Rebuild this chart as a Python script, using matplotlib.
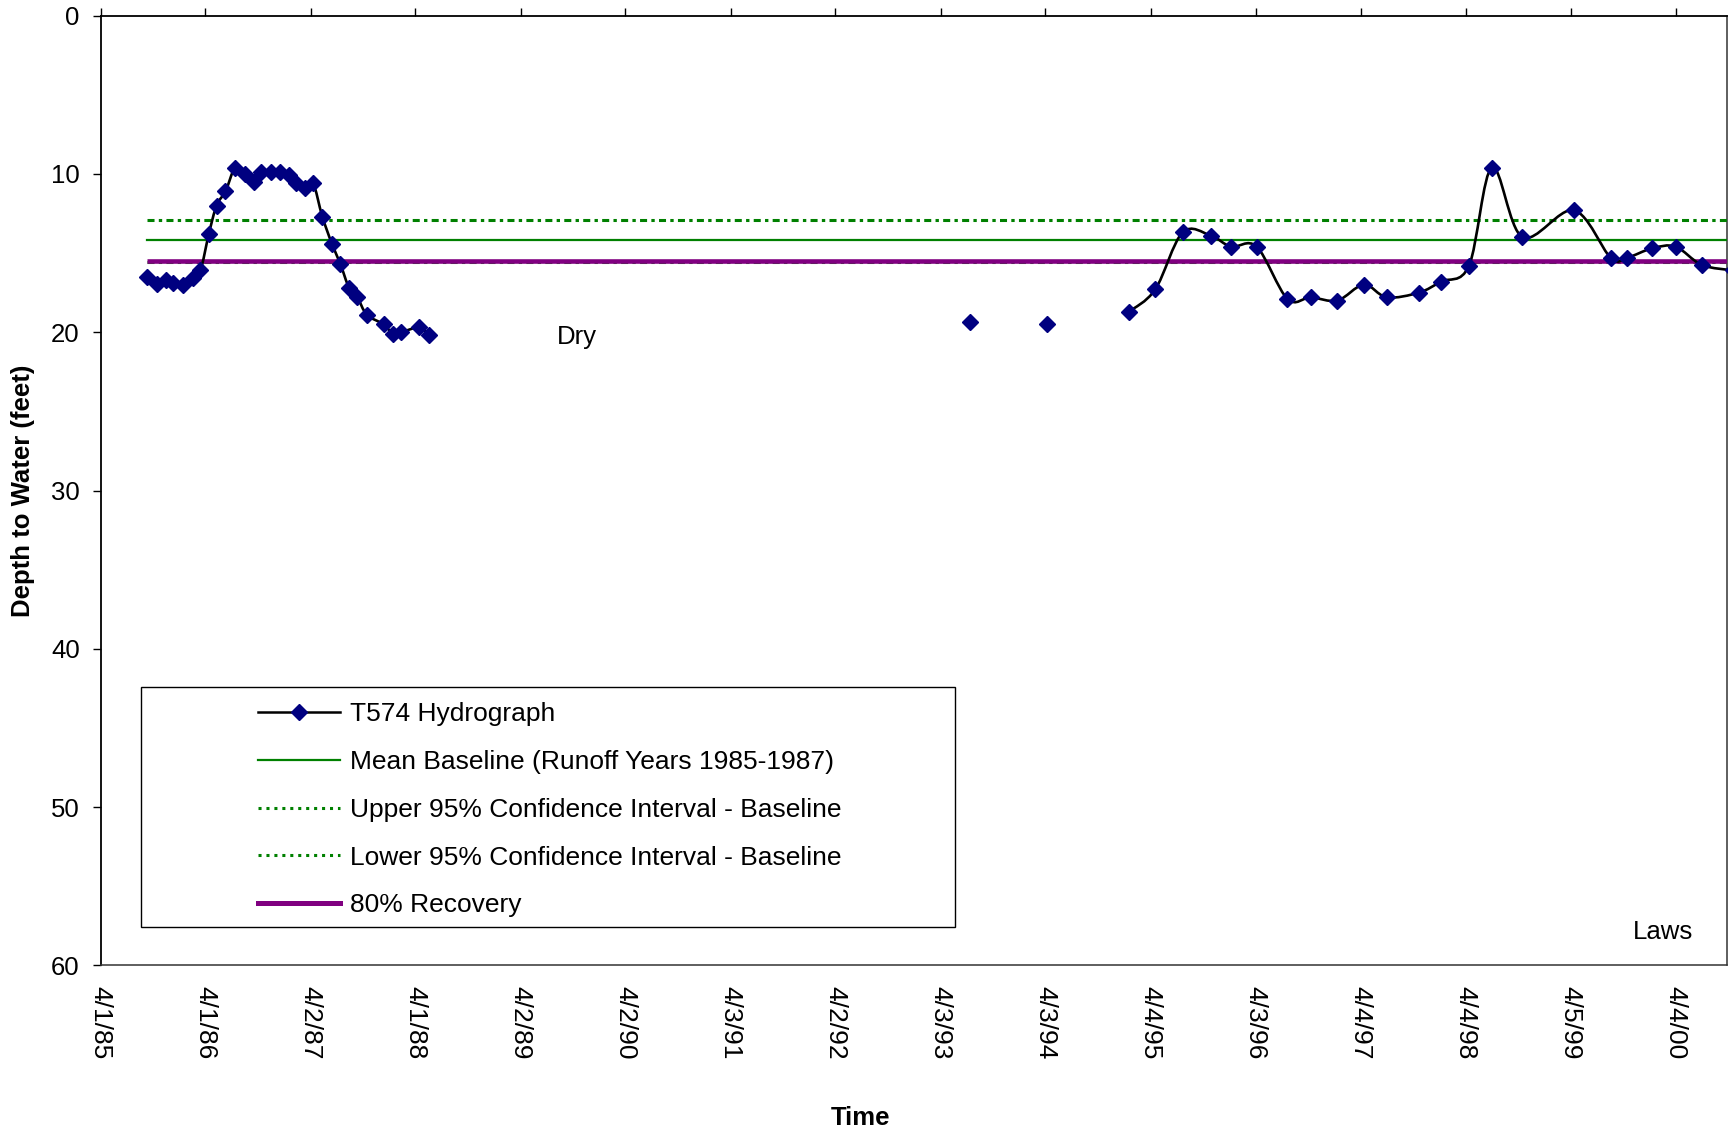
import numpy as np
import matplotlib
matplotlib.use('Agg')
import matplotlib.pyplot as plt
import matplotlib.dates as mdates
from matplotlib.path import Path
from matplotlib.patches import PathPatch, Rectangle
from matplotlib.lines import Line2D

plt.rcParams['font.family'] = ['Liberation Sans', 'DejaVu Sans']

# ---------------- data ----------------
dates = [
    '1985-09-10', '1985-10-13', '1985-11-14', '1985-12-10', '1986-01-12',
    '1986-02-18', '1986-03-15', '1986-04-13', '1986-05-10', '1986-06-10',
    '1986-07-14', '1986-08-16', '1986-09-17', '1986-10-11', '1986-11-14',
    '1986-12-16', '1987-01-17', '1987-02-12', '1987-03-15', '1987-04-11',
    '1987-05-13', '1987-06-15', '1987-07-15', '1987-08-14', '1987-09-12',
    '1987-10-15', '1987-12-12', '1988-01-14', '1988-02-12', '1988-04-15',
    '1988-05-18',
    '1990-10-01',                      # dry (no reading)
    '1993-07-13',
    '1993-12-01',                      # dry (no reading)
    '1994-04-08',
    '1994-09-01',                      # dry (no reading)
    '1995-01-19', '1995-04-20', '1995-07-24', '1995-10-30', '1996-01-09',
    '1996-04-07', '1996-07-23', '1996-10-12', '1997-01-13', '1997-04-15',
    '1997-07-04', '1997-10-24', '1998-01-09', '1998-04-16', '1998-07-05',
    '1998-10-19', '1999-04-16', '1999-08-22', '1999-10-18', '2000-01-14',
    '2000-04-04', '2000-07-04', '2000-10-20',
]
depths = [
    16.5, 16.95, 16.7, 16.9, 17.05,
    16.6, 16.1, 13.8, 12.0, 11.1,
    9.6, 10.0, 10.5, 9.9, 9.9,
    9.9, 10.1, 10.6, 10.9, 10.6,
    12.7, 14.4, 15.7, 17.2, 17.8,
    18.9, 19.5, 20.1, 20.0, 19.7,
    20.2,
    np.nan,
    19.35,
    np.nan,
    19.5,
    np.nan,
    18.7, 17.3, 13.7, 13.9, 14.6,
    14.6, 17.9, 17.8, 18.0, 17.0,
    17.8, 17.5, 16.8, 15.8, 9.6,
    14.0, 12.3, 15.3, 15.3, 14.7,
    14.6, 15.75, 16.1,
]
mean_baseline = 14.2
upper_ci = 12.9
lower_ci = 15.55
recovery_80 = 15.5

tick_dates = ['1985-04-01', '1986-04-01', '1987-04-02', '1988-04-01',
              '1989-04-02', '1990-04-02', '1991-04-03', '1992-04-02',
              '1993-04-03', '1994-04-03', '1995-04-04', '1996-04-03',
              '1997-04-04', '1998-04-04', '1999-04-05', '2000-04-04']
tick_labels = ['4/1/85', '4/1/86', '4/2/87', '4/1/88', '4/2/89', '4/2/90',
               '4/3/91', '4/2/92', '4/3/93', '4/3/94', '4/4/95', '4/3/96',
               '4/4/97', '4/4/98', '4/5/99', '4/4/00']
x_range = ['1985-04-01', '2000-10-01']
y_ticks = [0, 10, 20, 30, 40, 50, 60]

legend_labels = ['T574 Hydrograph',
                 'Mean Baseline (Runoff Years 1985-1987)',
                 'Upper 95% Confidence Interval - Baseline',
                 'Lower 95% Confidence Interval - Baseline',
                 '80% Recovery']

# ---------------- drawing ----------------
x = mdates.datestr2num(dates)
y = np.array(depths, dtype=float)

GREEN = '#008000'
PURPLE = '#800080'
NAVY = '#000080'

fig = plt.figure(figsize=(17.32, 11.34), dpi=100)
ax = fig.add_axes([0.05803, 0.14859, 0.93926, 0.83774])


def smooth_path(px, py):
    """Excel-style smoothed line: cubic Bezier through the points."""
    n = len(px)
    verts = [(px[0], py[0])]
    codes = [Path.MOVETO]
    for i in range(n - 1):
        p0 = (px[i - 1], py[i - 1]) if i > 0 else (px[i], py[i])
        p1 = (px[i], py[i])
        p2 = (px[i + 1], py[i + 1])
        p3 = (px[i + 2], py[i + 2]) if i + 2 < n else p2
        c1 = (p1[0] + (p2[0] - p0[0]) / 6.0, p1[1] + (p2[1] - p0[1]) / 6.0)
        c2 = (p2[0] - (p3[0] - p1[0]) / 6.0, p2[1] - (p3[1] - p1[1]) / 6.0)
        verts += [c1, c2, p2]
        codes += [Path.CURVE4] * 3
    return Path(verts, codes)


# split into runs separated by dry (NaN) readings
valid = ~np.isnan(y)
runs = []
cur = []
for i in range(len(y)):
    if valid[i]:
        cur.append(i)
    else:
        if cur:
            runs.append(cur)
        cur = []
if cur:
    runs.append(cur)

for r in runs:
    if len(r) > 1:
        patch = PathPatch(smooth_path(x[r], y[r]), facecolor='none',
                          edgecolor='black', lw=1.9, zorder=6)
        ax.add_patch(patch)

# horizontal reference lines
xs_h = [x[valid][0], x[valid][-1]]
ax.plot(xs_h, [lower_ci, lower_ci], color=GREEN, lw=2.2,
        linestyle=(0, (2.3, 1.4, 1.1, 1.4)), zorder=3)
ax.plot(xs_h, [recovery_80, recovery_80], color=PURPLE, lw=3.3,
        solid_capstyle='butt', zorder=4)
ax.plot(xs_h, [mean_baseline, mean_baseline], color=GREEN, lw=1.6, zorder=4)
ax.plot(xs_h, [upper_ci, upper_ci], color=GREEN, lw=2.2,
        linestyle=(0, (2.3, 1.4, 1.1, 1.4)), zorder=4)

# markers
ax.plot(x[valid], y[valid], linestyle='none', marker='D', ms=7.8,
        mfc=NAVY, mec=NAVY, zorder=7)

ax.set_xlim(mdates.datestr2num(x_range))
ax.set_ylim(60, 0)

ax.set_yticks(y_ticks)
ax.set_yticklabels([str(v) for v in y_ticks])
ax.tick_params(axis='y', direction='out', length=5.5, width=1,
               pad=9.5, labelsize=18.5)

ax.set_xticks(mdates.datestr2num(tick_dates))
ax.set_xticklabels(tick_labels, rotation=270, va='top', ha='center',
                   fontsize=19)
ax.tick_params(axis='x', top=True, bottom=False, labeltop=False,
               labelbottom=True, direction='out', length=5.5, width=1,
               pad=9.5)

for side in ['top', 'left']:
    ax.spines[side].set_linewidth(1.3)
    ax.spines[side].set_color('black')
for side in ['bottom', 'right']:
    ax.spines[side].set_linewidth(1.1)
    ax.spines[side].set_color('#333333')

ax.set_ylabel('Depth to Water (feet)', fontsize=18.5, fontweight='bold',
              va='center')
ax.yaxis.set_label_coords(-0.0476, 0.5)
ax.set_xlabel('Time', fontsize=18.5, fontweight='bold', va='center')
ax.xaxis.set_label_coords(0.467, -0.1605)

ax.text(0.2929, 0.6539, 'Dry', transform=ax.transAxes, ha='center',
        va='baseline', fontsize=18.5)
ax.text(0.9602, 0.0279, 'Laws', transform=ax.transAxes, ha='center',
        va='baseline', fontsize=18.5)

# legend
handles = [
    Line2D([], [], color='black', lw=1.8, marker='D', ms=7.8,
           mfc=NAVY, mec=NAVY),
    Line2D([], [], color=GREEN, lw=1.6),
    Line2D([], [], color=GREEN, lw=2.2, linestyle=(0, (1, 1.6))),
    Line2D([], [], color=GREEN, lw=2.2, linestyle=(0, (1, 1.6))),
    Line2D([], [], color=PURPLE, lw=3.6),
]
box = Rectangle((0.0246, 0.0402), 0.5253 - 0.0246, 0.2928 - 0.0402,
                transform=ax.transAxes, facecolor='white', edgecolor='black',
                lw=1.0, zorder=8)
ax.add_patch(box)
leg = ax.legend(handles, legend_labels, loc='upper left',
                bbox_to_anchor=(0.0971, 0.277), frameon=False,
                borderpad=0, borderaxespad=0, fontsize=19,
                handlelength=3.09, handletextpad=0.36, labelspacing=0.90)
leg.set_zorder(9)

fig.savefig('out.png', dpi=100)
